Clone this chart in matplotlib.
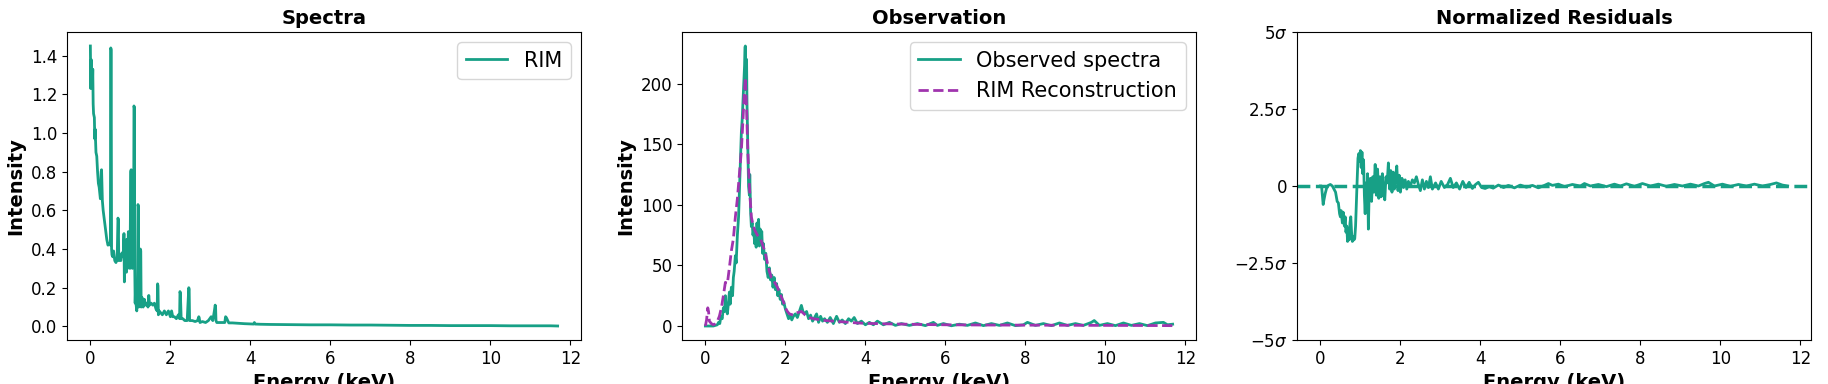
import matplotlib
matplotlib.use('Agg')
import matplotlib.pyplot as plt

teal = '#17a086'
purple = '#a034ae'

# Spectra (RIM)
spec_x = [0.00, 0.01, 0.02, 0.03, 0.04, 0.05, 0.06, 0.07, 0.08, 0.10,
          0.11, 0.12, 0.14, 0.16, 0.18, 0.20, 0.22, 0.25, 0.27, 0.28,
          0.30, 0.32, 0.35, 0.38, 0.41, 0.44, 0.47, 0.50, 0.51, 0.52,
          0.53, 0.54, 0.56, 0.58, 0.61, 0.64, 0.67, 0.69, 0.70, 0.71,
          0.73, 0.76, 0.79, 0.82, 0.84, 0.85, 0.86, 0.87, 0.89, 0.90,
          0.91, 0.93, 0.95, 0.96, 0.97, 0.99, 1.01, 1.02, 1.03, 1.04,
          1.05, 1.06, 1.07, 1.08, 1.09, 1.10, 1.11, 1.12, 1.13, 1.14,
          1.16, 1.17, 1.18, 1.19, 1.20, 1.21, 1.22, 1.24, 1.25, 1.26,
          1.27, 1.29, 1.32, 1.35, 1.38, 1.41, 1.44, 1.46, 1.48, 1.52,
          1.56, 1.60, 1.64, 1.67, 1.68, 1.69, 1.70, 1.72, 1.76, 1.80,
          1.85, 1.90, 1.95, 2.00, 2.03, 2.06, 2.10, 2.15, 2.20, 2.23,
          2.24, 2.25, 2.27, 2.31, 2.36, 2.42, 2.46, 2.47, 2.48, 2.50,
          2.55, 2.62, 2.68, 2.71, 2.72, 2.74, 2.80, 2.88, 2.95, 3.02,
          3.06, 3.10, 3.12, 3.13, 3.14, 3.16, 3.22, 3.30, 3.36, 3.38,
          3.40, 3.46, 3.55, 3.70, 3.85, 4.00, 4.08, 4.10, 4.12, 4.25,
          4.50, 5.00, 5.50, 6.00, 6.50, 7.00, 7.50, 8.00, 8.50, 9.00,
          9.50, 10.00, 10.50, 11.00, 11.50, 11.68]
spec_y = [1.45, 1.23, 1.38, 1.25, 1.33, 1.24, 1.33, 1.15, 1.10, 1.08,
          0.97, 1.02, 0.90, 0.88, 0.80, 0.74, 0.72, 0.66, 0.80, 0.81,
          0.65, 0.60, 0.55, 0.50, 0.45, 0.42, 0.43, 0.42, 1.44, 1.43,
          0.40, 0.37, 0.36, 0.39, 0.34, 0.33, 0.35, 0.56, 0.55, 0.34,
          0.37, 0.34, 0.38, 0.36, 0.48, 0.23, 0.44, 0.32, 0.40, 0.28,
          0.45, 0.30, 0.49, 0.34, 0.42, 0.30, 0.80, 0.81, 0.34, 0.45,
          0.30, 0.42, 0.33, 0.38, 1.14, 1.13, 0.30, 0.12, 0.20, 0.12,
          0.08, 0.15, 0.10, 0.63, 0.62, 0.10, 0.14, 0.12, 0.40, 0.39,
          0.10, 0.15, 0.10, 0.14, 0.11, 0.12, 0.10, 0.16, 0.11, 0.12,
          0.11, 0.12, 0.09, 0.08, 0.22, 0.21, 0.06, 0.08, 0.07, 0.06,
          0.08, 0.06, 0.08, 0.05, 0.08, 0.05, 0.05, 0.04, 0.06, 0.04,
          0.18, 0.17, 0.04, 0.04, 0.03, 0.03, 0.20, 0.19, 0.03, 0.03,
          0.03, 0.025, 0.03, 0.05, 0.045, 0.02, 0.025, 0.02, 0.03, 0.05,
          0.03, 0.08, 0.11, 0.10, 0.03, 0.02, 0.02, 0.02, 0.02, 0.05,
          0.045, 0.018, 0.018, 0.016, 0.014, 0.013, 0.012, 0.02, 0.012, 0.011,
          0.010, 0.009, 0.008, 0.008, 0.007, 0.007, 0.006, 0.005, 0.005, 0.004,
          0.004, 0.004, 0.003, 0.003, 0.003, 0.002]

# Observation
obs_x = [0.00, 0.05, 0.10, 0.15, 0.20, 0.25, 0.30, 0.33, 0.36, 0.39,
         0.42, 0.45, 0.48, 0.50, 0.52, 0.55, 0.58, 0.60, 0.62, 0.65,
         0.68, 0.70, 0.72, 0.75, 0.77, 0.80, 0.83, 0.86, 0.88, 0.90,
         0.92, 0.94, 0.96, 0.98, 0.99, 1.00, 1.01, 1.02, 1.03, 1.04,
         1.06, 1.08, 1.10, 1.11, 1.13, 1.15, 1.17, 1.19, 1.21, 1.23,
         1.25, 1.27, 1.29, 1.31, 1.33, 1.35, 1.37, 1.39, 1.41, 1.43,
         1.45, 1.48, 1.51, 1.54, 1.57, 1.60, 1.63, 1.66, 1.69, 1.72,
         1.75, 1.78, 1.81, 1.84, 1.87, 1.90, 1.93, 1.96, 2.00, 2.04,
         2.08, 2.12, 2.16, 2.20, 2.25, 2.30, 2.35, 2.40, 2.44, 2.48,
         2.53, 2.58, 2.63, 2.68, 2.73, 2.78, 2.83, 2.88, 2.93, 2.98,
         3.05, 3.12, 3.20, 3.28, 3.35, 3.42, 3.50, 3.58, 3.65, 3.72,
         3.80, 3.90, 4.00, 4.10, 4.20, 4.30, 4.45, 4.60, 4.75, 4.90,
         5.10, 5.30, 5.50, 5.70, 5.80, 5.95, 6.15, 6.35, 6.55, 6.75,
         6.95, 7.15, 7.35, 7.55, 7.75, 7.95, 8.05, 8.25, 8.45, 8.65,
         8.85, 9.05, 9.25, 9.45, 9.65, 9.72, 9.85, 10.05, 10.25, 10.45,
         10.65, 10.85, 11.05, 11.25, 11.45, 11.55, 11.68]
obs_y = [0, 0, 0, 0, 0, 0.5, 1, 3, 2, 8,
         6, 15, 12, 25, 14, 10, 20, 28, 18, 32,
         25, 40, 45, 58, 52, 75, 90, 120, 140, 160,
         170, 185, 200, 215, 230, 231, 195, 210, 220, 185,
         150, 115, 108, 125, 95, 82, 85, 75, 80, 68,
         72, 65, 85, 70, 88, 66, 80, 72, 78, 60,
         68, 55, 60, 45, 40, 48, 38, 42, 32, 40,
         30, 35, 25, 30, 22, 26, 18, 20, 14, 10,
         6, 9, 5, 8, 10, 7, 12, 17, 12, 10,
         12, 6, 9, 4, 7, 10, 3, 8, 4, 6,
         3, 7, 2, 8, 3, 5, 2, 6, 4, 7,
         2, 4, 1, 3, 1, 4, 1, 3, 0.5, 2,
         0.5, 2, 0.3, 3, 0.5, 2, 0.2, 1.5, 0.5, 2.5,
         0.3, 2, 0.5, 2.5, 0.3, 1, 3, 0.5, 2, 0.3,
         2.5, 0.5, 2, 0.5, 3, 4.5, 0.5, 2, 0.3, 2.5,
         0.5, 2, 0.3, 2.5, 3, 1, 1.5]

rec_x = [0.00, 0.03, 0.06, 0.08, 0.10, 0.15, 0.20, 0.25, 0.30, 0.35,
         0.40, 0.45, 0.50, 0.55, 0.60, 0.65, 0.70, 0.75, 0.80, 0.85,
         0.90, 0.94, 0.97, 1.00, 1.03, 1.06, 1.10, 1.15, 1.20, 1.25,
         1.30, 1.35, 1.40, 1.45, 1.50, 1.55, 1.60, 1.65, 1.70, 1.75,
         1.80, 1.85, 1.90, 1.95, 2.00, 2.05, 2.10, 2.20, 2.30, 2.40,
         2.50, 2.60, 2.70, 2.80, 3.00, 3.20, 3.40, 3.60, 3.80, 4.00,
         4.50, 5.00, 5.50, 6.00, 7.00, 8.00, 9.00, 10.00, 11.00, 11.68]
rec_y = [0, 5, 15, 12, 4, 2, 1, 2, 4, 8,
         15, 25, 36, 35, 48, 62, 72, 90, 105, 125,
         145, 170, 190, 205, 180, 145, 115, 90, 82, 78,
         75, 73, 70, 65, 60, 52, 45, 40, 38, 35,
         32, 28, 24, 20, 15, 12, 10, 9, 11, 12,
         9, 7, 6, 5.5, 4.5, 4, 3.5, 3, 2.5, 2.2,
         1.8, 1.5, 1.2, 1.0, 0.8, 0.7, 0.6, 0.5, 0.4, 0.3]

# Normalized residuals (in sigma)
res_x = [0.00, 0.03, 0.05, 0.07, 0.09, 0.12, 0.16, 0.20, 0.25, 0.30,
         0.34, 0.38, 0.42, 0.45, 0.48, 0.50, 0.52, 0.55, 0.57, 0.60,
         0.62, 0.64, 0.66, 0.68, 0.70, 0.72, 0.74, 0.76, 0.78, 0.80,
         0.82, 0.84, 0.86, 0.88, 0.90, 0.92, 0.94, 0.96, 0.98, 1.00,
         1.02, 1.04, 1.06, 1.08, 1.10, 1.12, 1.14, 1.16, 1.18, 1.20,
         1.22, 1.25, 1.28, 1.31, 1.34, 1.37, 1.40, 1.43, 1.46, 1.49,
         1.52, 1.55, 1.58, 1.61, 1.64, 1.67, 1.70, 1.73, 1.76, 1.79,
         1.82, 1.85, 1.88, 1.91, 1.94, 1.97, 2.00, 2.04, 2.08, 2.12,
         2.16, 2.20, 2.25, 2.30, 2.35, 2.40, 2.45, 2.50, 2.55, 2.60,
         2.65, 2.70, 2.75, 2.80, 2.88, 2.95, 3.02, 3.10, 3.18, 3.25,
         3.32, 3.40, 3.48, 3.56, 3.64, 3.72, 3.80, 3.88, 3.95, 4.03,
         4.12, 4.22, 4.32, 4.45, 4.58, 4.70, 4.85, 5.00, 5.15, 5.30,
         5.45, 5.60, 5.70, 5.80, 5.95, 6.10, 6.30, 6.50, 6.60, 6.75,
         6.95, 7.15, 7.35, 7.50, 7.65, 7.85, 8.05, 8.25, 8.45, 8.65,
         8.85, 9.05, 9.25, 9.45, 9.60, 9.70, 9.85, 10.05, 10.25, 10.45,
         10.65, 10.85, 11.05, 11.25, 11.40, 11.55, 11.68]
res_y = [0, 0, -0.3, -0.6, -0.45, -0.25, -0.05, 0.02, 0.05, 0.0,
         -0.1, -0.2, -0.5, -0.55, -0.9, -1.0, -0.8, -1.2, -0.85, -1.3,
         -1.0, -1.5, -1.3, -1.8, -1.4, -1.75, -1.2, -1.0, -1.5, -1.8,
         -1.65, -1.75, -1.7, -1.3, -0.5, 0.2, 0.9, 1.05, 0.8, 1.15,
         0.6, 1.1, 0.4, 0.85, -0.3, -0.9, 0.1, -0.6, 0.4, -1.4,
         -0.2, 0.25, -0.5, 0.3, -0.2, 0.7, -0.3, 0.55, -0.4, 0.3,
         -0.35, 0.4, -0.2, -0.45, 0.3, 0.1, 0.75, -0.1, 0.5, -0.2,
         0.45, -0.1, 0.3, 0.65, -0.15, 0.35, -0.2, 0.25, -0.05, 0.2,
         -0.1, 0.15, 0.0, 0.2, 0.1, 0.3, 0.05, -0.15, 0.2, -0.1,
         0.15, -0.05, 0.3, -0.1, 0.1, -0.1, 0.15, -0.05, 0.05, 0.25,
         -0.05, 0.1, -0.1, 0.15, -0.05, 0.12, -0.08, 0.05, 0.12, -0.05,
         -0.08, -0.02, -0.07, 0.03, -0.05, 0.02, -0.06, 0.03, -0.04, 0.02,
         -0.06, 0.02, 0.08, 0.02, 0.06, -0.02, 0.05, 0.0, 0.08, 0.0,
         0.05, -0.02, 0.06, 0.0, 0.07, -0.01, 0.08, 0.0, 0.06, -0.01,
         0.05, 0.0, 0.06, 0.0, 0.08, 0.12, 0.0, 0.06, -0.01, 0.05,
         0.0, 0.06, 0.0, 0.05, 0.1, 0.03, 0.0]

sigma_ticks = [-5, -2.5, 0, 2.5, 5]
sigma_labels = [r'$-5\sigma$', r'$-2.5\sigma$', '0', r'$2.5\sigma$', r'$5\sigma$']

W, H = 1828, 384
fig = plt.figure(figsize=(W / 100, H / 100), dpi=100)
lefts = [67, 682, 1297]
ax1 = fig.add_axes([lefts[0] / W, 44 / H, 514 / W, 308 / H])
ax2 = fig.add_axes([lefts[1] / W, 44 / H, 514 / W, 308 / H])
ax3 = fig.add_axes([lefts[2] / W, 44 / H, 514 / W, 308 / H])

########## Spectra ##########
ax1.plot(spec_x, spec_y, color=teal, lw=2, label='RIM')
ax1.set_title('Spectra', fontsize=14, fontweight='bold')
ax1.set_ylabel('Intensity', fontsize=14, fontweight='bold')
ax1.set_xlabel('Energy (keV)', fontsize=14, fontweight='bold')
ax1.legend(fontsize=15, loc='upper right')

########## Observation ##########
ax2.plot(obs_x, obs_y, color=teal, lw=2, label='Observed spectra')
ax2.plot(rec_x, rec_y, color=purple, lw=2, ls='--', label='RIM Reconstruction')
ax2.set_title('Observation', fontsize=14, fontweight='bold')
ax2.set_ylabel('Intensity', fontsize=14, fontweight='bold')
ax2.set_xlabel('Energy (keV)', fontsize=14, fontweight='bold')
ax2.legend(fontsize=15, loc='upper right')

########## Residuals ##########
ax3.plot(res_x, res_y, color=teal, lw=2)
ax3.axhline(0, color=teal, lw=2.5, ls='--')
ax3.set_ylim(-5, 5)
ax3.set_yticks(sigma_ticks)
ax3.set_yticklabels(sigma_labels)
ax3.set_title('Normalized Residuals', fontsize=14, fontweight='bold')
ax3.set_xlabel('Energy (keV)', fontsize=14, fontweight='bold')

for ax in (ax1, ax2, ax3):
    ax.set_xticks([0, 2, 4, 6, 8, 10, 12])
    ax.tick_params(labelsize=12)
ax3.set_xlim(ax1.get_xlim())

fig.savefig('out.png', dpi=100)
